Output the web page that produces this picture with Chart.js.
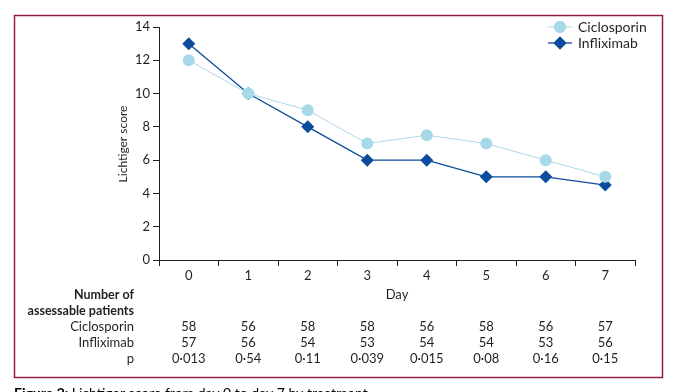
<!DOCTYPE html>
<html>
<head>
<meta charset="utf-8">
<script src="https://cdn.jsdelivr.net/npm/chart.js@4/dist/chart.umd.min.js"></script>
<style>
    html, body { margin: 0; padding: 0; background: #fff; }
    #wrap { width: 674px; height: 392px; position: relative; }
</style>
</head>
<body>
<div id="wrap"><canvas id="scoreChart" width="674" height="392"></canvas></div>
<script>
const days = ['0', '1', '2', '3', '4', '5', '6', '7'];
const ciclosporinScore = [12, 10, 9, 7, 7.5, 7, 6, 5];
const infliximabScore = [13, 10, 8, 6, 6, 5, 5, 4.5];
const ciclosporinN = ['58', '56', '58', '58', '56', '58', '56', '57'];
const infliximabN = ['57', '56', '54', '53', '54', '54', '53', '56'];
const pValues = ['0·013', '0·54', '0·11', '0·039', '0·015', '0·08', '0·16', '0·15'];

const FONT = 'Lato, "DejaVu Sans Condensed", sans-serif';
const INK = '#231f20';
const LIGHT = '#a8d9e8';
const DARK = '#0b4c9c';

const extras = {
    id: 'extras',
    afterDraw(chart) {
        const ctx = chart.ctx;
        const x = chart.scales.x;
        const area = chart.chartArea;
        ctx.save();

        // frame
        ctx.strokeStyle = '#951c50';
        ctx.lineWidth = 1.5;
        ctx.strokeRect(14.5, 15.5, 648, 362);

        // y title
        ctx.fillStyle = INK;
        ctx.font = '12px ' + FONT;
        ctx.textAlign = 'center';
        ctx.textBaseline = 'middle';
        ctx.save();
        ctx.translate(123, 144);
        ctx.rotate(-Math.PI / 2);
        ctx.fillText('Lichtiger score', 0, 0);
        ctx.restore();

        // x title
        ctx.font = '13px ' + FONT;
        ctx.fillText('Day', (area.left + area.right) / 2, 295);

        // legend
        chart.data.datasets.forEach(function (ds, i) {
            const ly = 27 + i * 16;
            ctx.strokeStyle = ds.borderColor;
            ctx.lineWidth = ds.borderWidth;
            ctx.beginPath();
            ctx.moveTo(548, ly);
            ctx.lineTo(572, ly);
            ctx.stroke();
            ctx.fillStyle = ds.pointBackgroundColor;
            Chart.helpers.drawPoint(ctx, {
                pointStyle: ds.pointStyle, radius: ds.pointRadius, borderWidth: 0
            }, 560, ly);
            ctx.fill();
            ctx.fillStyle = INK;
            ctx.font = '14px ' + FONT;
            ctx.textAlign = 'left';
            ctx.fillText(ds.label, 578, ly);
        });

        // table
        ctx.textAlign = 'right';
        ctx.font = 'bold 12.5px ' + FONT;
        ctx.fillText('Number of', 134, 295);
        ctx.fillText('assessable patients', 134, 311);
        ctx.font = '13px ' + FONT;
        const rows = [['Ciclosporin', ciclosporinN, 327], ['Infliximab', infliximabN, 343], ['p', pValues, 359]];
        rows.forEach(function (r) {
            ctx.textAlign = 'right';
            ctx.fillText(r[0], 134, r[2]);
            ctx.textAlign = 'center';
            r[1].forEach(function (v, i) {
                ctx.fillText(v, x.getPixelForValue(i), r[2]);
            });
        });

        // caption (cut off at the bottom)
        ctx.textAlign = 'left';
        ctx.textBaseline = 'top';
        ctx.font = 'bold 14px ' + FONT;
        ctx.fillStyle = '#000';
        ctx.fillText('Figure 2:', 14, 386);
        const w = ctx.measureText('Figure 2: ').width;
        ctx.font = '14px ' + FONT;
        ctx.fillText('Lichtiger score from day 0 to day 7 by treatment', 14 + w, 386);

        ctx.restore();
    }
};

new Chart(document.getElementById('scoreChart').getContext('2d'), {
    type: 'line',
    data: {
        labels: days,
        datasets: [{
            label: 'Ciclosporin',
            data: ciclosporinScore,
            borderColor: LIGHT,
            backgroundColor: LIGHT,
            pointBackgroundColor: LIGHT,
            pointBorderWidth: 0,
            borderWidth: 1,
            pointStyle: 'circle',
            pointRadius: 6,
            tension: 0
        }, {
            label: 'Infliximab',
            data: infliximabScore,
            borderColor: DARK,
            backgroundColor: DARK,
            pointBackgroundColor: DARK,
            pointBorderWidth: 0,
            borderWidth: 1.3,
            pointStyle: 'rectRot',
            pointRadius: 6.5,
            tension: 0
        }]
    },
    options: {
        responsive: false,
        animation: false,
        layout: { padding: { left: 0, right: 39, top: 27, bottom: 0 } },
        plugins: {
            legend: { display: false },
            tooltip: { enabled: false }
        },
        scales: {
            x: {
                offset: true,
                afterFit: function (s) { s.height = 132; },
                grid: { offset: true, drawOnChartArea: false, tickLength: 6, color: INK },
                border: { color: INK, width: 1 },
                ticks: { color: INK, padding: 2, font: { family: FONT, size: 13 } }
            },
            y: {
                min: 0,
                max: 14,
                afterFit: function (s) { s.width = 159; },
                grid: { drawOnChartArea: false, tickLength: 6, color: INK },
                border: { color: INK, width: 1 },
                ticks: { stepSize: 2, color: INK, padding: 3, font: { family: FONT, size: 13 } }
            }
        }
    },
    plugins: [extras]
});
</script>
</body>
</html>
